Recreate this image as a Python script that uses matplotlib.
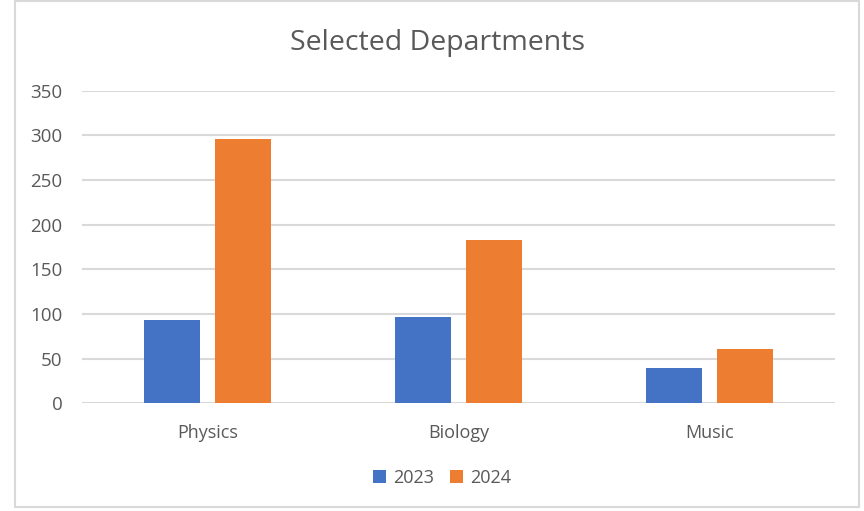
import numpy as np
import matplotlib.pyplot as plt
from matplotlib.patches import Rectangle

departments = ["Physics", "Biology", "Music"]
years = ["2023", "2024"]
values_2023 = [93, 97, 39]
values_2024 = [295.5, 182.5, 60.5]
yticks = [0, 50, 100, 150, 200, 250, 300, 350]

blue = "#4472C4"
orange = "#ED7D31"
grey_text = "#595959"
grid_col = "#D9D9D9"

plt.rcParams['font.family'] = ['Open Sans', 'DejaVu Sans']

W, H = 864, 511
fig = plt.figure(figsize=(W / 100, H / 100), dpi=100)

# outer chart border
fig.patches.append(Rectangle((15 / W, 4 / H), (859 - 15) / W, (510 - 4) / H,
                             transform=fig.transFigure, fill=False,
                             edgecolor=grid_col, linewidth=1.5))

ax = fig.add_axes([82 / W, (H - 403.3) / H, (835 - 82) / W, (403.3 - 90.7) / H])

x = np.arange(len(departments))
w = 0.223
off = 0.143
ax.bar(x - off, values_2023, width=w, color=blue, label=years[0], zorder=3)
ax.bar(x + off, values_2024, width=w, color=orange, label=years[1], zorder=3)

ax.set_xlim(-0.5, 2.5)
ax.set_ylim(0, 350)
ax.set_yticks(yticks)
ax.set_xticks(x)
ax.set_xticklabels(departments)
ax.grid(axis='y', color=grid_col, linewidth=1.5, zorder=0)
for s in ax.spines.values():
    s.set_visible(False)
ax.tick_params(axis='y', length=0, pad=14, labelsize=13.5, labelcolor=grey_text)
ax.tick_params(axis='x', length=0, pad=15, labelsize=13, labelcolor=grey_text)

fig.text(437.5 / W, 1 - 43 / H, "Selected Departments", ha='center', va='center',
         fontsize=20.5, color=grey_text)

fig.legend(loc='center', bbox_to_anchor=(442 / W, 1 - 478 / H), ncol=2,
           frameon=False, handlelength=0.7, handleheight=0.7,
           handletextpad=0.4, columnspacing=0.9, fontsize=13,
           labelcolor=grey_text)

fig.savefig("out.png", dpi=100)
